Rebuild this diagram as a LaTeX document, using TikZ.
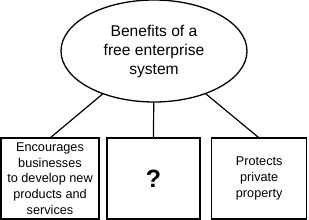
\documentclass[tikz,border=0pt]{standalone}
\usepackage{fontspec}
\setmainfont{Liberation Sans}
\usetikzlibrary{shapes.geometric}
\begin{document}
\begin{tikzpicture}[x=1pt,y=1pt,
  every node/.style={inner sep=0pt, outer sep=0pt},
  topic/.style={ellipse, draw, line width=1.3pt, minimum width=186pt, minimum height=102pt, align=center, font=\fontsize{15.6}{19}\selectfont},
  item/.style={rectangle, draw, line width=1.3pt, minimum height=81pt, align=center, font=\fontsize{12.7}{15.7}\selectfont},
  link/.style={line width=1.2pt}]
\useasboundingbox (0,0) rectangle (309,220);
\node[topic] (t) at (154,169) {Benefits of a\\free enterprise\\system};
\node[item, minimum width=98pt] (a) at (50,41.5) {Encourages\\businesses\\to develop new\\products and\\services};
\node[item, minimum width=93pt] (b) at (153.5,41.5) {\fontsize{25}{28}\selectfont\bfseries ?};
\node[item, minimum width=95pt] (c) at (259.2,41.5) {Protects\\private\\property};
\draw[link] (t) -- (a.north);
\draw[link] (t) -- (b.north);
\draw[link] (t) -- (c.north);
\end{tikzpicture}
\end{document}
